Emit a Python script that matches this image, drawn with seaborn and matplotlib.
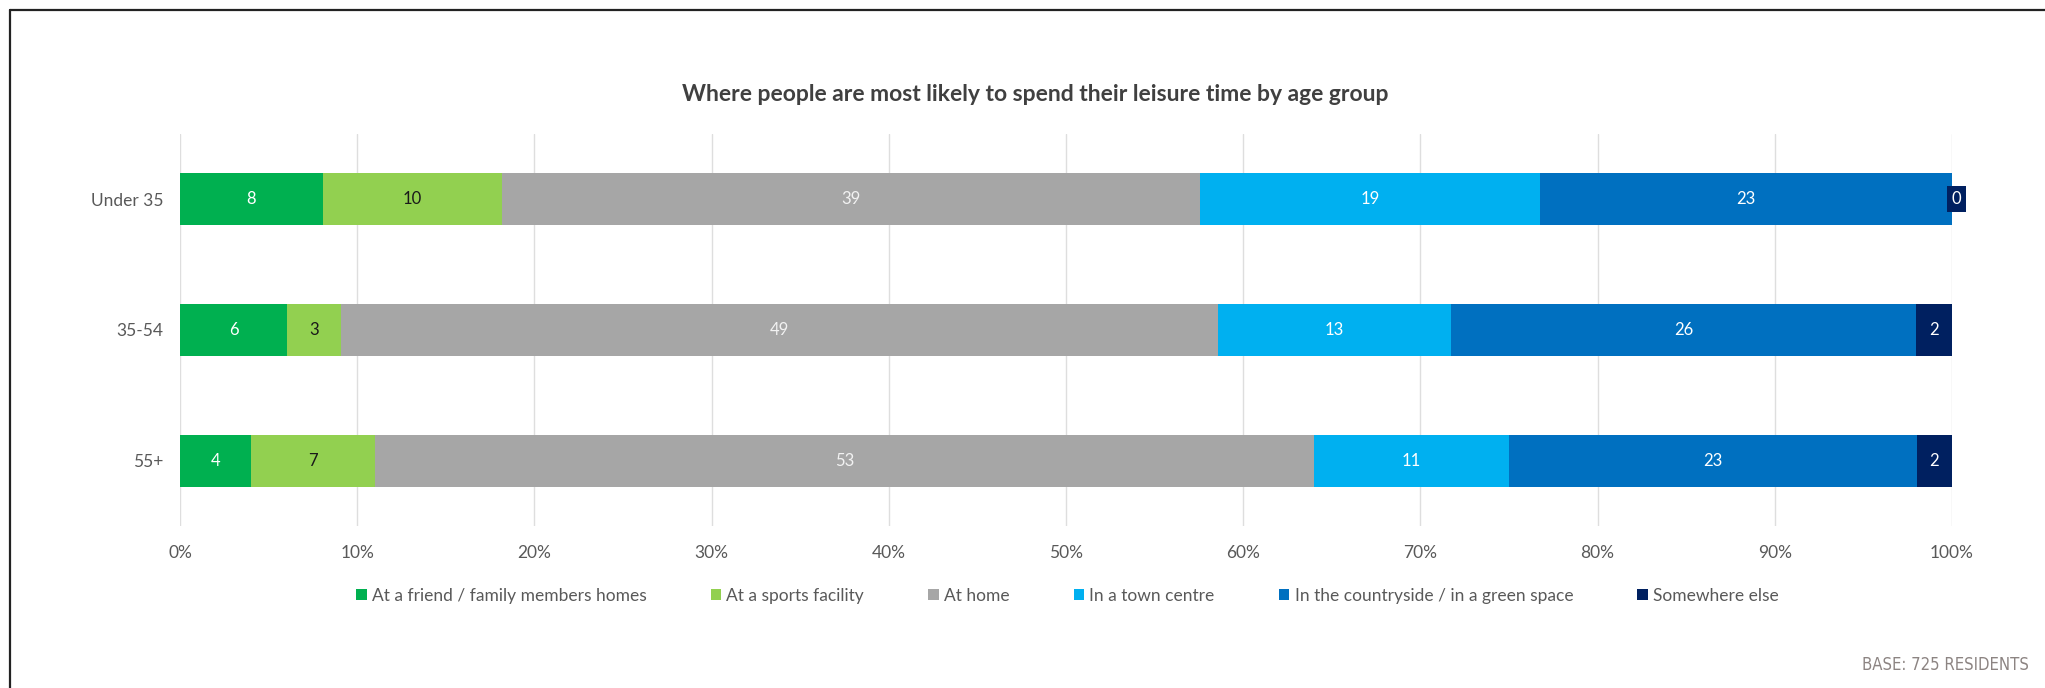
import numpy as np
import pandas as pd
import matplotlib
matplotlib.use("Agg")
import matplotlib.pyplot as plt
from matplotlib.patches import Patch
from matplotlib.lines import Line2D
import seaborn as sns

# ---- data ----
groups = ["Under 35", "35-54", "55+"]
series = ["At a friend / family members homes", "At a sports facility", "At home",
          "In a town centre", "In the countryside / in a green space", "Somewhere else"]
friend = [8, 6, 4]
sports = [10, 3, 7]
home = [39, 49, 53]
town = [19, 13, 11]
country = [23, 26, 23]
elsewhere = [0, 2, 2]
xticks = [0, 10, 20, 30, 40, 50, 60, 70, 80, 90, 100]
xtick_labels = [f"{t}%" for t in xticks]
title = "Where people are most likely to spend their leisure time by age group"
base_note = "BASE: 725 RESIDENTS"

colors = ["#00B050", "#92D050", "#A6A6A6", "#00B0F0", "#0070C0", "#002060"]
label_colors = ["white", "#1a1a1a", "#f2f2f2", "white", "white", "white"]

vals = np.array([friend, sports, home, town, country, elsewhere], dtype=float)  # series x groups
pct = vals / vals.sum(axis=0) * 100
cum = np.cumsum(pct, axis=0)
starts = cum - pct

sns.set_theme(style="white")
plt.rcParams["font.family"] = ["Lato", "DejaVu Sans"]

fig = plt.figure(figsize=(20.45, 6.88), dpi=100)
ax = fig.add_axes([0.0880, 0.2355, 0.8665, 0.5697])

# stacked bars: draw cumulative totals from last series to first
for i in range(len(series) - 1, -1, -1):
    df = pd.DataFrame({"group": groups, "value": cum[i]})
    sns.barplot(data=df, x="value", y="group", orient="h", color=colors[i],
                width=0.4, saturation=1, linewidth=0, ax=ax, zorder=3)

# labels
for i in range(len(series)):
    for j in range(len(groups)):
        v = int(vals[i, j])
        if v == 0:
            ax.text(starts[i, j] + 0.25, j, str(v), ha="center", va="center",
                    fontsize=12, color="white", zorder=5,
                    bbox=dict(boxstyle="square,pad=0.3", fc=colors[i], ec="none"))
        else:
            ax.text((starts[i, j] + cum[i, j]) / 2, j, str(v), ha="center", va="center",
                    fontsize=12, color=label_colors[i], zorder=5)

ax.set_xlim(0, 100)
ax.set_ylim(2.5, -0.5)
ax.set_xticks(xticks)
ax.set_xticklabels(xtick_labels)
ax.set_xlabel("")
ax.set_ylabel("")
ax.grid(axis="x", color="#dedede", linewidth=1, zorder=0)
ax.grid(axis="y", visible=False)
for s in ax.spines.values():
    s.set_visible(False)
ax.tick_params(axis="x", length=0, pad=14, labelsize=12.5, labelcolor="#595959")
ax.tick_params(axis="y", length=0, pad=12, labelsize=12.5, labelcolor="#595959")

# title
fig.text(0.506, 0.863, title, ha="center", va="center", fontsize=16.5,
         fontweight="bold", color="#404040")

# legend
handles = [Patch(facecolor=c, edgecolor="none", label=s) for c, s in zip(colors, series)]
fig.legend(handles=handles, loc="center", bbox_to_anchor=(0.522, 0.134), ncol=6,
           frameon=False, fontsize=12.5, handlelength=0.6, handleheight=0.6,
           handletextpad=0.3, columnspacing=3.7, labelcolor="#595959")

# base note
fig.text(0.992, 0.033, base_note, ha="right", va="center", fontsize=12,
         color="#8c8482", family=["DejaVu Sans"], fontstretch="condensed")

# frame lines
fig.add_artist(Line2D([0.005, 1.0], [0.9855, 0.9855], transform=fig.transFigure,
                      color="#222222", linewidth=1.6))
fig.add_artist(Line2D([0.005, 0.005], [0.0, 0.9855], transform=fig.transFigure,
                      color="#222222", linewidth=1.6))

fig.savefig("out.png", dpi=100, facecolor="white")
